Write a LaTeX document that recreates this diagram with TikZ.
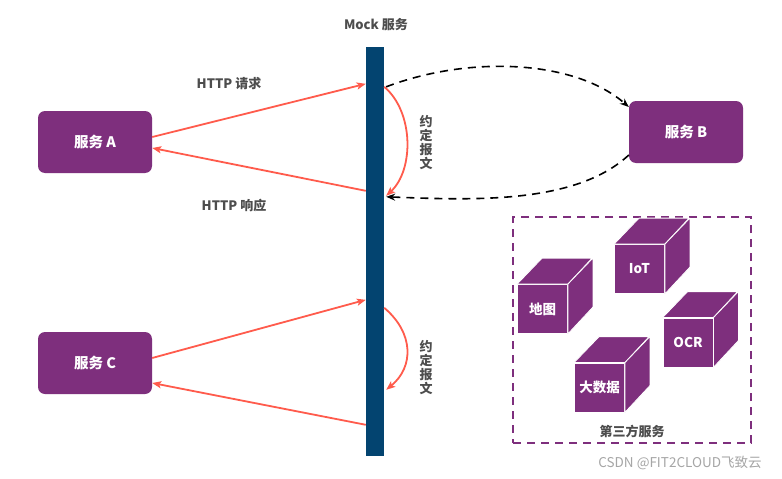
\documentclass[tikz,border=0pt]{standalone}
\usepackage{fontspec}
\setmainfont{Noto Sans CJK SC}
\usetikzlibrary{arrows.meta,calc}
\definecolor{svc}{HTML}{7E2F7D}
\definecolor{barblue}{HTML}{034470}
\definecolor{reda}{HTML}{FF5B4C}
\definecolor{txt}{HTML}{4D4D4D}
\tikzset{
  svcbox/.style={rectangle,rounded corners=7pt,fill=svc,minimum width=114pt,minimum height=62pt,text=white,font=\fontsize{14.5}{16}\selectfont\bfseries,inner sep=0pt},
  redarrow/.style={draw=reda,line width=1.8pt,-{Stealth[length=9pt,width=7pt,inset=2pt]}},
  dasharrow/.style={draw=black,line width=1.6pt,dash pattern=on 8pt off 6pt,-{Stealth[length=9pt,width=7pt]}},
  lbl/.style={text=txt,font=\fontsize{13}{15}\selectfont\bfseries,inner sep=0pt},
  vlbl/.style={text=txt,font=\fontsize{13}{14}\selectfont\bfseries,align=center,inner sep=0pt},
  cubefront/.style={rectangle,fill=svc,draw=white,line width=0.8pt,minimum width=50pt,minimum height=49pt,inner sep=0pt,text=white,font=\fontsize{13.5}{15}\selectfont\bfseries},
  cubeface/.style={fill=svc,draw=white,line width=0.8pt,line join=round},
}
\newcommand\mycube[3]{%
  \node[cubefront] (#1) at (#2) {#3};
  \draw[cubeface] (#1.north west) -- ++(25,-26) -- ++(50,0) -- ($(#1.north east)$) -- cycle;
  \draw[cubeface] (#1.north east) -- ++(25,-26) -- ++(0,49) -- ($(#1.south east)$) -- cycle;
}
\begin{document}
\begin{tikzpicture}[x=1pt,y=-1pt]
\useasboundingbox[fill=white] (0,0) rectangle (782,479);
% bar
\node[rectangle,fill=barblue,minimum width=18pt,minimum height=409pt,inner sep=0pt] (bar) at (375,251.5) {};
\node[lbl] (mock) at (376,25) {Mock 服务};
% services
\node[svcbox] (A) at (95,142) {服务 A};
\node[svcbox] (B) at (686,132) {服务 B};
\node[svcbox] (C) at (95,363) {服务 C};
% top connectors
\draw[redarrow] ([yshift=5pt]A.east) -- ([yshift=-37pt]bar.north west);
\draw[redarrow] ([yshift=-144pt]bar.north west) -- ([yshift=-6pt]A.east);
\node[lbl] (req) at (229,84) {HTTP 请求};
\node[lbl] (resp) at (234,206) {HTTP 响应};
\draw[redarrow] ([yshift=-40pt]bar.north east) .. controls (414,112) and (414,170) .. ([xshift=2pt,yshift=-149pt]bar.north east);
\node[vlbl] (v1) at (426,143) {约\\定\\报\\文};
\draw[dasharrow] ([xshift=2pt,yshift=-40pt]bar.north east) .. controls (470,55) and (575,60) .. ([yshift=25pt]B.west);
\draw[dasharrow] ([yshift=-23pt]B.west) .. controls (575,205) and (470,200) .. ([xshift=2pt,yshift=-150pt]bar.north east);
% bottom connectors
\draw[redarrow] ([yshift=5pt]C.east) -- ([yshift=-253pt]bar.north west);
\draw[redarrow] ([yshift=-378pt]bar.north west) -- ([yshift=-20pt]C.east);
\draw[redarrow] ([yshift=-261pt]bar.north east) .. controls (414,333) and (414,367) .. ([xshift=2pt,yshift=-343pt]bar.north east);
\node[vlbl] (v2) at (426,368) {约\\定\\报\\文};
% third party
\node[rectangle,draw=svc,line width=1.5pt,dash pattern=on 8pt off 6pt,minimum width=238pt,minimum height=226pt,inner sep=0pt] (tp) at (632,330) {};
\node[lbl] (tpl) at (632,431) {第三方服务};
\mycube{map}{542.5,309}{地图}
\mycube{iot}{639.5,269}{IoT}
\mycube{ocr}{688,342.5}{OCR}
\mycube{big}{599.5,387.5}{大数据}
\node[text=gray!70,font=\fontsize{13.5}{15}\selectfont,inner sep=0pt] (wm) at (680,463) {CSDN @FIT2CLOUD飞致云};
\end{tikzpicture}
\end{document}
